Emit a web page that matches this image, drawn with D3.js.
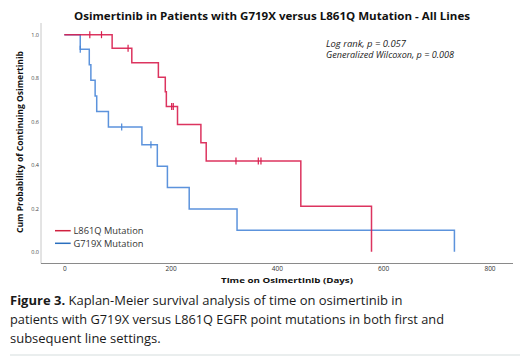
<!DOCTYPE html>
<html>
<head>
<meta charset="utf-8">
<script src="https://cdn.jsdelivr.net/npm/d3@7"></script>
<style>
  html, body { margin: 0; padding: 0; background: #fff; }
  svg { display: block; }
</style>
</head>
<body>
<svg id="chart" width="529" height="357"></svg>
<script>
// ---- Data ----
const chartTitle = "Osimertinib in Patients with G719X versus L861Q Mutation - All Lines";
const xTicks = [0, 200, 400, 600, 800];
const yTicks = [0, 0.2, 0.4, 0.6, 0.8, 1.0];
const seriesNames = ["L861Q Mutation", "G719X Mutation"];

// L861Q (red) Kaplan-Meier steps
const redTimes = [0, 90, 127, 177, 190, 192, 213, 257, 267, 445, 578];
const redSurv  = [1, 0.9375, 0.8705, 0.8036, 0.7366, 0.6696, 0.5859, 0.5022, 0.4185, 0.2093, 0];
const redCensor = [48, 70, 120, 202, 205, 323, 365, 370];

// G719X (blue) Kaplan-Meier steps
const blueTimes = [0, 30, 47, 50, 58, 61, 83, 146, 175, 194, 235, 325, 734];
const blueSurv  = [1, 0.9333, 0.8615, 0.7897, 0.7179, 0.6462, 0.5744, 0.4923, 0.3938, 0.2954, 0.1969, 0.0985, 0];
const blueCensor = [30, 108, 163];

const statLines = ["Log rank, p = 0.057", "Generalized Wilcoxon, p = 0.008"];
const captionBold = "Figure 3.";
const captionLines = [
  " Kaplan-Meier survival analysis of time on osimertinib in",
  "patients with G719X versus L861Q EGFR point mutations in both first and",
  "subsequent line settings."
];

// ---- Drawing ----
const svg = d3.select("#chart");
const font = "'Open Sans', 'Noto Sans', sans-serif";
const RED = "#d81e4e", BLUE = "#4a87d8";

const x = d3.scaleLinear().domain([0, 800]).range([64.3, 489.5]);
const y = d3.scaleLinear().domain([0, 1]).range([251.7, 34.7]);

// Title
svg.append("text")
  .attr("x", 272).attr("y", 19.5)
  .attr("text-anchor", "middle")
  .attr("font-family", font).attr("font-weight", "bold")
  .attr("font-size", 10.5).attr("fill", "#111")
  .attr("textLength", 396).attr("lengthAdjust", "spacingAndGlyphs")
  .text(chartTitle);

// Axis frame lines
svg.append("line").attr("x1", 41).attr("x2", 41).attr("y1", 23).attr("y2", 263.5)
  .attr("stroke", "#c8c8c8").attr("stroke-width", 1);
svg.append("line").attr("x1", 41).attr("x2", 513).attr("y1", 263.5).attr("y2", 263.5)
  .attr("stroke", "#8a8a8a").attr("stroke-width", 1);

// X axis labels
const xAxis = svg.append("g").attr("transform", "translate(0,263.5)")
  .call(d3.axisBottom(x).tickValues(xTicks).tickSize(0).tickPadding(3).tickFormat(d3.format("d")));
xAxis.select(".domain").remove();
xAxis.selectAll("text").attr("font-family", font).attr("font-size", 6.5).attr("fill", "#333");

// Y axis labels
const yAxis = svg.append("g").attr("transform", "translate(40,0)")
  .call(d3.axisLeft(y).tickValues(yTicks).tickSize(0).tickPadding(1).tickFormat(d3.format(".1f")));
yAxis.select(".domain").remove();
yAxis.selectAll("text").attr("font-family", font).attr("font-size", 5.5).attr("fill", "#444");

// Axis titles
svg.append("text")
  .attr("x", 287).attr("y", 282.5)
  .attr("text-anchor", "middle")
  .attr("font-family", font).attr("font-weight", "bold").attr("font-size", 7.8).attr("fill", "#111")
  .attr("textLength", 132).attr("lengthAdjust", "spacingAndGlyphs")
  .text("Time on Osimertinib (Days)");
svg.append("text")
  .attr("transform", "translate(23,142) rotate(-90)")
  .attr("text-anchor", "middle")
  .attr("font-family", font).attr("font-weight", "bold").attr("font-size", 8).attr("fill", "#111")
  .attr("textLength", 182).attr("lengthAdjust", "spacingAndGlyphs")
  .text("Cum Probability of Continuing Osimertinib");

// KM curves
function stepData(times, surv) {
  const pts = [];
  for (let i = 0; i < times.length; i++) {
    if (i > 0) pts.push([times[i], surv[i - 1]]);
    pts.push([times[i], surv[i]]);
  }
  return pts;
}
const line = d3.line().x(d => x(d[0])).y(d => y(d[1]));

function survAt(times, surv, t) {
  let s = surv[0];
  for (let i = 0; i < times.length; i++) if (times[i] <= t) s = surv[i];
  return s;
}

function drawSeries(times, surv, censor, color) {
  svg.append("path")
    .datum(stepData(times, surv))
    .attr("d", line)
    .attr("fill", "none")
    .attr("stroke", color)
    .attr("stroke-width", 1.5)
    .attr("stroke-opacity", 0.9);
  svg.append("g").selectAll("line")
    .data(censor)
    .join("line")
    .attr("x1", d => x(d)).attr("x2", d => x(d))
    .attr("y1", d => y(survAt(times, surv, d)) - 3.5)
    .attr("y2", d => y(survAt(times, surv, d)) + 3.5)
    .attr("stroke", color).attr("stroke-width", 1.2);
}
drawSeries(blueTimes, blueSurv, blueCensor, BLUE);
drawSeries(redTimes, redSurv, redCensor, RED);

// Stats annotation
svg.append("g").selectAll("text")
  .data(statLines)
  .join("text")
  .attr("x", 326).attr("y", (d, i) => 46.5 + i * 11.5)
  .attr("font-family", font).attr("font-style", "italic").attr("font-size", 8.5).attr("fill", "#222")
  .attr("textLength", (d, i) => i === 0 ? 80 : 128).attr("lengthAdjust", "spacingAndGlyphs")
  .text(d => d);

// Legend
const legendColors = ["#d0213f", "#2a6fbe"];
const lg = svg.append("g");
seriesNames.forEach((name, i) => {
  const ly = 230.7 + i * 12.6;
  lg.append("line").attr("x1", 55).attr("x2", 70.7).attr("y1", ly).attr("y2", ly)
    .attr("stroke", legendColors[i]).attr("stroke-width", 1.5);
  lg.append("text").attr("x", 73.5).attr("y", ly + 3.2)
    .attr("font-family", font).attr("font-size", 9.3).attr("fill", "#333")
    .text(name);
});

// Caption
const cap = svg.append("g").attr("font-family", font).attr("font-size", 13).attr("fill", "#1a1a1a");
const l1 = cap.append("text").attr("x", 10).attr("y", 305);
l1.append("tspan").attr("font-weight", "bold").text(captionBold);
l1.append("tspan").text(captionLines[0]);
cap.append("text").attr("x", 10).attr("y", 324)
  .attr("textLength", 434).attr("lengthAdjust", "spacingAndGlyphs").text(captionLines[1]);
cap.append("text").attr("x", 10).attr("y", 343).text(captionLines[2]);

// Bottom rule
svg.append("line").attr("x1", 10).attr("x2", 520).attr("y1", 355).attr("y2", 355)
  .attr("stroke", "#e3e8e8").attr("stroke-width", 1.5);
</script>
</body>
</html>
